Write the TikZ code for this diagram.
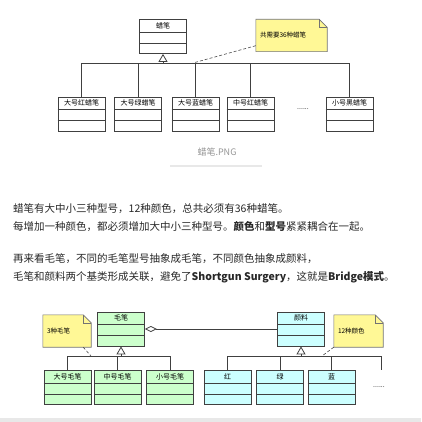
\documentclass[tikz,border=0pt]{standalone}
\usepackage{fontspec}
\setmainfont{Noto Sans CJK SC}
\usetikzlibrary{arrows.meta,calc,positioning}
\definecolor{brushgreen}{RGB}{204,255,204}
\definecolor{paintcyan}{RGB}{204,255,255}
\definecolor{notefill}{RGB}{255,248,150}
\definecolor{bodytext}{RGB}{40,40,40}
\definecolor{captiongray}{RGB}{150,150,150}
\definecolor{rulegray}{RGB}{232,232,232}

\begin{document}
\begin{tikzpicture}[x=1pt,y=-1pt,
    cls/.style={draw=black!75,line width=0.8pt,minimum width=47pt,minimum height=34pt,inner sep=0pt},
    clstext/.style={font=\fontsize{7}{8}\selectfont,inner sep=0pt},
    notebox/.style={minimum width=#1,minimum height=32pt,inner sep=0pt},
    notetext/.style={font=\fontsize{6.5}{8}\selectfont,inner sep=0pt,anchor=west},
    notelink/.style={draw=black!70,dash pattern=on 3pt off 2pt,line width=0.6pt},
    gen/.style={draw=black!75,line width=0.8pt},
    para/.style={font=\fontsize{10.5}{12}\selectfont,text=bodytext,inner sep=0pt,anchor=west}]
  \useasboundingbox[fill=white] (0,0) rectangle (421,422);

  % class boxes: name/x/y/title/fill
  \foreach \nm/\px/\py/\txt/\clr in {
      crayon/163/36.5/蜡笔/white,
      cr1/81.5/114/大号红蜡笔/white, cr2/138/114/大号绿蜡笔/white,
      cr3/195.5/114/大号蓝蜡笔/white, cr4/250.5/114/中号红蜡笔/white,
      cr5/349.5/114/小号黑蜡笔/white,
      brush/121/329/毛笔/brushgreen, paint/301/329/颜料/paintcyan,
      br1/67.5/387.5/大号毛笔/brushgreen, br2/117.5/387.5/中号毛笔/brushgreen,
      br3/170/387.5/小号毛笔/brushgreen,
      pt1/227.5/387.5/红/paintcyan, pt2/280/387.5/绿/paintcyan,
      pt3/331.5/387.5/蓝/paintcyan}{
    \node[cls,fill=\clr] (\nm) at (\px,\py) {};
    \node[clstext] (\nm-t) at ($(\nm.north)+(0,6.5)$) {\txt};
    \draw[black!75,line width=0.8pt] ($(\nm.north west)+(0,13)$) -- ($(\nm.north east)+(0,13)$);
    \draw[black!75,line width=0.8pt] ($(\nm.north west)+(0,24)$) -- ($(\nm.north east)+(0,24)$);
  }

  % crayon hierarchy
  \coordinate (j1) at (163,63);
  \draw[gen] (cr1.north) |- (cr5.north |- j1) -- (cr5.north);
  \foreach \c in {cr2,cr3,cr4}
    \draw[gen] (\c.north) -- (\c.north |- j1);
  \draw[gen,-{Triangle[open,length=8pt,width=9pt]}] (j1) -- (crayon.south);
  \node[clstext] (dots1) at (303,109) {......};

  % notes
  \foreach \nm/\px/\py/\w/\txt in {
      note1/291.5/35.5/71pt/共需要36种蜡笔,
      note2/67/331/48pt/3种毛笔,
      note3/358.5/331/49pt/12种颜色}{
    \node[notebox=\w] (\nm) at (\px,\py) {};
    \filldraw[fill=notefill,draw=black!55,line width=0.6pt]
      (\nm.north west) -- ($(\nm.north east)+(-8,0)$) -- ($(\nm.north east)+(0,8)$)
      -- (\nm.south east) -- (\nm.south west) -- cycle;
    \draw[black!55,line width=0.6pt] ($(\nm.north east)+(-8,0)$) |- ($(\nm.north east)+(0,8)$);
    \node[notetext] (\nm-t) at ($(\nm.west)+(4,0)$) {\txt};
  }
  \coordinate (n1end) at (193,63);
  \draw[notelink] ($(note1.south west)+(0,-6)$) -- (n1end);

  % caption
  \node[font=\fontsize{9}{10}\selectfont,text=captiongray,inner sep=0pt] (caption) at (217,152) {蜡笔.PNG};
  \draw[rulegray,line width=1.2pt] (170,166) -- (262,166);

  % text
  \node[para] (line1) at (13,209) {蜡笔有大中小三种型号，12种颜色，总共必须有36种蜡笔。};
  \node[para] (line2) at (13,227) {每增加一种颜色，都必须增加大中小三种型号。\textbf{颜色}和\textbf{型号}紧紧耦合在一起。};
  \node[para] (line3) at (13,259) {再来看毛笔，不同的毛笔型号抽象成毛笔，不同颜色抽象成颜料，};
  \node[para] (line4) at (13,277) {毛笔和颜料两个基类形成关联，避免了\textbf{Shortgun Surgery}，这就是\textbf{Bridge模式}。};

  % bridge
  \draw[gen,{Diamond[open,length=12pt,width=6pt]}-] (brush.east) -- (paint.west);
  \coordinate (j2) at (121,356);
  \coordinate (j3) at (301,356);
  \coordinate (pt4) at (381,370);
  \draw[gen] (br1.north) |- (br3.north |- j2) -- (br3.north);
  \draw[gen] (br2.north) -- (br2.north |- j2);
  \draw[gen,-{Triangle[open,length=8pt,width=9pt]}] (j2) -- (brush.south);
  \draw[gen] (pt1.north) |- (pt4 |- j3) -- (pt4);
  \foreach \c in {pt2,pt3}
    \draw[gen] (\c.north) -- (\c.north |- j3);
  \draw[gen,-{Triangle[open,length=8pt,width=9pt]}] (j3) -- (paint.south);
  \node[clstext] (dots2) at (379,387) {......};
  \coordinate (n2end) at (91,356);
  \coordinate (n3end) at (322,356);
  \draw[notelink] ($(note2.south east)+(-8,0)$) -- (n2end);
  \draw[notelink] (note3.south west) -- (n3end);

  \fill[rulegray] (0,418) rectangle (421,422);
\end{tikzpicture}
\end{document}
